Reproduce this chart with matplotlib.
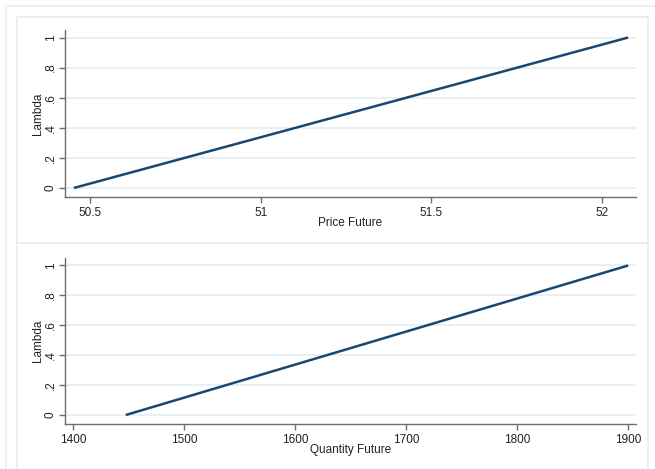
import matplotlib
matplotlib.use("Agg")
import matplotlib.pyplot as plt
from matplotlib.lines import Line2D

plt.rcParams['font.family'] = ['Liberation Sans', 'DejaVu Sans']

# Data
price_future = [50.453, 52.076]
price_lambda = [0.0, 1.0]
quantity_future = [1447.5, 1900.0]
quantity_lambda = [0.0, 1.0]

y_ticks = [0, 0.2, 0.4, 0.6, 0.8, 1.0]
y_ticklabels = ["0", ".2", ".4", ".6", ".8", "1"]
price_ticks = [50.5, 51, 51.5, 52]
price_ticklabels = ["50.5", "51", "51.5", "52"]
qty_ticks = [1400, 1500, 1600, 1700, 1800, 1900]
qty_ticklabels = ["1400", "1500", "1600", "1700", "1800", "1900"]

W, H = 655, 469
fig = plt.figure(figsize=(W / 100, H / 100), dpi=100)
fig.patch.set_facecolor("white")

border = "#e6eef0"
line_color = "#1a476f"
axis_color = "#6e6e6e"
text_color = "#222222"
fs = 8.5

def fx(px):
    return px / W

def fy(py):
    return 1 - py / H

# region borders
for (x0, y0, x1, y1) in [
    (6, 6, 660, 6), (6, 6, 6, 475),
    (17, 17, 648, 17), (17, 17, 17, 475), (648, 17, 648, 475),
    (17, 243, 648, 243),
]:
    fig.add_artist(Line2D([fx(x0), fx(x1)], [fy(y0), fy(y1)], color=border,
                          lw=1.2, transform=fig.transFigure))

def make_axes(rect, x, y, xticks, xticklabels, xlim, xlabel):
    ax = fig.add_axes(rect)
    ax.set_facecolor("white")
    for yv in y_ticks:
        ax.axhline(yv, color=border, lw=1.2, zorder=0)
    ax.plot(x, y, color=line_color, lw=1.8, solid_capstyle="butt", zorder=3)
    ax.set_xlim(*xlim)
    ax.set_ylim(-0.06, 1.05)
    ax.set_yticks(y_ticks)
    ax.set_yticklabels(y_ticklabels, rotation=90, va="center")
    ax.set_xticks(xticks)
    ax.set_xticklabels(xticklabels)
    for s in ["top", "right"]:
        ax.spines[s].set_visible(False)
    for s in ["left", "bottom"]:
        ax.spines[s].set_color(axis_color)
        ax.spines[s].set_linewidth(1.0)
    ax.tick_params(axis="both", colors=axis_color, labelcolor=text_color,
                   length=4, width=1.0, labelsize=fs)
    ax.tick_params(axis="x", pad=3)
    ax.tick_params(axis="y", pad=2)
    ax.set_ylabel("Lambda", fontsize=fs, color=text_color, labelpad=0.5)
    ax.set_xlabel(xlabel, fontsize=fs, color=text_color, labelpad=-1)
    return ax

top_rect = [fx(65), fy(197), fx(636) - fx(65), fy(30) - fy(197)]
bot_rect = [fx(65), fy(424), fx(636) - fx(65), fy(258) - fy(424)]

make_axes(top_rect, price_future, price_lambda, price_ticks, price_ticklabels,
          (50.427, 52.099), "Price Future")
make_axes(bot_rect, quantity_future, quantity_lambda, qty_ticks, qty_ticklabels,
          (1392.8, 1907.0), "Quantity Future")

fig.savefig("out.png", dpi=100, facecolor="white")
